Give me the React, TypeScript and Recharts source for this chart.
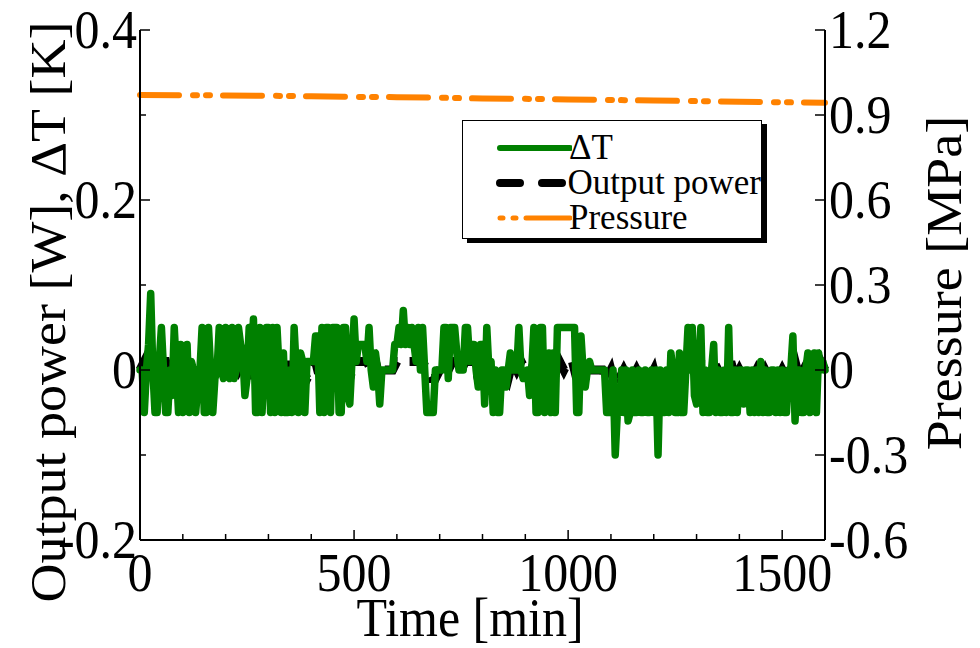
import { LineChart, Line, XAxis, YAxis, Legend } from "recharts";

const FONT = '"Liberation Serif", "Times New Roman", serif';
const STRETCH = 1.08;

// ΔT [K], one value every 5 min from 0 to 1600 min
const deltaT = [
  0, 0, -0.05, 0, 0.03, 0.09, 0, -0.05, -0.05, 0.01, 0.05, 0, -0.05, -0.05, 0, -0.03, 0.05, 0, -0.05, 0.03,
  -0.05, 0, 0.03, -0.05, 0.01, 0, -0.05, -0.02, 0, 0.05, -0.05, -0.05, 0.05, 0, -0.05, -0.01, 0, 0.05, 0, -0.01,
  0.05, 0, -0.01, 0.05, -0.01, 0, 0.05, 0.03, 0.02, -0.03, -0.01, 0.05, 0, 0.06, -0.05, -0.05, 0.05, -0.05, 0, 0.05,
  0.05, -0.05, 0.05, -0.05, 0.05, 0, -0.05, 0.02, -0.05, -0.05, 0, -0.05, 0.05, 0, -0.05, 0.02, 0.01, -0.05, 0.01, 0.01,
  0.01, 0.01, 0.04, 0.04, -0.05, 0.05, -0.05, 0.05, 0.05, -0.05, 0.05, 0.05, 0.05, -0.05, -0.05, 0.05, 0.05, -0.03, -0.04, 0.01,
  0.06, 0.01, 0.03, 0.03, 0.03, 0.03, 0.01, 0.05, 0, -0.02, 0.02, 0, -0.04, 0, 0, 0, 0, 0, 0, 0.03,
  0.03, 0.05, 0.03, 0.07, 0.03, 0.05, 0.03, 0.05, 0.03, 0.01, 0.05, 0, 0.05, 0, -0.05, -0.05, -0.05, -0.05, 0, 0,
  0, 0, 0.05, 0.05, -0.01, 0.05, 0.05, 0.05, 0.02, 0, 0, 0, 0.05, 0.05, 0.01, 0.03, 0.03, 0, -0.02, 0.03,
  0.03, -0.04, 0.05, 0, 0.01, -0.05, 0, -0.05, -0.05, 0, 0, -0.02, 0, 0.02, 0, 0, 0, 0.05, 0, -0.01,
  -0.01, 0, -0.03, 0, 0.05, -0.05, -0.05, 0.05, 0.05, -0.05, 0, 0.02, -0.05, 0.02, -0.05, 0.05, 0.05, 0.05, 0.05, 0.05,
  0.05, 0.05, 0.05, 0.05, -0.05, -0.05, 0.04, 0, -0.02, 0, 0.01, 0, 0, 0, 0, 0, 0, 0, -0.05, -0.05,
  -0.05, 0, -0.1, -0.05, -0.05, 0, -0.05, 0, -0.06, -0.05, 0, -0.05, -0.05, 0, -0.05, -0.05, 0, -0.05, -0.05, 0,
  -0.05, 0, -0.1, 0, -0.05, -0.05, 0, -0.05, 0.02, 0, -0.05, -0.05, 0.02, -0.05, -0.05, 0, 0.05, 0, 0.05, -0.03,
  -0.04, 0, 0.05, -0.05, 0, -0.05, -0.05, 0, 0.03, -0.05, 0, -0.05, -0.05, 0, -0.05, 0.05, -0.05, -0.05, 0, -0.05,
  0, 0, -0.04, 0, 0, -0.05, 0, -0.05, 0, -0.05, 0.01, -0.05, 0, -0.05, -0.05, 0, 0, -0.05, 0, -0.05,
  0, -0.05, -0.05, 0, 0, 0.04, -0.06, 0, 0, -0.05, -0.05, 0, 0.02, -0.05, 0, 0.02, -0.05, 0.02, 0, 0.01, 0,
];

// Output power [W], one value every 10 min
const outputPower = [
  0, 0.01, -0.01, 0.02, -0.01, 0.01, 0.01, -0.01, -0.01, 0.01,
  -0.01, 0.01, 0, -0.01, 0, 0.01, -0.01, 0.01, -0.01, 0,
  0.01, 0, 0.01, 0, 0.01, 0.01, -0.01, 0.01, 0.02, -0.01,
  0.01, -0.01, 0.01, -0.01, 0.01, -0.01, 0.01, -0.01, 0, -0.01,
  0, 0.01, -0.01, 0.01, -0.01, 0.01, 0.01, -0.01, 0.01, -0.01,
  0.01, 0.01, 0.01, 0.01, 0, 0.01, -0.01, 0, 0, 0,
  0.01, 0.01, 0.01, 0.01, 0.01, 0.01, 0.01, 0, -0.01, -0.01,
  0, 0.01, 0, 0.01, 0.01, 0, 0.01, 0.01, 0.01, -0.01,
  -0.01, 0.01, 0, -0.01, -0.01, 0, -0.01, 0.01, 0, 0.01,
  0, -0.01, 0.01, -0.01, 0.01, -0.01, 0.01, -0.01, 0.01, 0,
  0.01, 0.01, -0.01, 0.01, -0.01, 0, 0, 0, 0, -0.01,
  0, -0.02, -0.01, 0, -0.01, -0.01, 0, -0.01, 0, -0.01,
  0, -0.02, -0.01, 0, 0.01, -0.01, 0.01, -0.01, 0.01, 0.01,
  -0.01, 0.01, -0.01, -0.01, 0.01, 0, -0.01, -0.01, 0.01, -0.01,
  0, -0.01, 0, -0.01, 0, -0.01, 0, -0.01, 0, -0.01,
  0, -0.01, 0, 0.01, -0.01, 0, -0.01, 0.01, -0.01, 0.01, 0,
];

// Pressure [MPa], one value every 100 min
const pressure = [
  0.971, 0.97, 0.969, 0.968, 0.966, 0.964, 0.963, 0.961, 0.958,
  0.957, 0.955, 0.953, 0.951, 0.949, 0.947, 0.945, 0.943,
];

const xTicks = [0, 100, 200, 300, 400, 500, 600, 700, 800, 900, 1000, 1100, 1200, 1300, 1400, 1500, 1600];
const leftTicks = [-0.2, -0.1, 0, 0.1, 0.2, 0.3, 0.4];
const rightTicks = [-0.6, -0.3, 0, 0.3, 0.6, 0.9, 1.2];

const data = deltaT.map((v, i) => ({
  t: i * 5,
  dT: v,
  power: i % 2 === 0 ? outputPower[i / 2] : undefined,
  p: i % 20 === 0 ? pressure[i / 20] : undefined,
}));

const fmt = (v: number) => (Math.abs(v) < 1e-9 ? "0" : v.toFixed(1));

// text stretched vertically a little, like the reference
const Tall = ({ x, y, anchor, children }: any) => (
  <g transform={`translate(${x} ${y}) scale(1 ${STRETCH})`}>
    <text x={0} y={0} textAnchor={anchor} fontSize={50} fontFamily={FONT} fill="#000">
      {children}
    </text>
  </g>
);

const BottomTick = ({ x, y, payload }: any) => {
  const v = payload.value;
  const major = v % 500 === 0;
  return (
    <g>
      <line x1={x} x2={x} y1={y} y2={y - (major ? 10 : 6)} stroke="#000" strokeWidth={1.5} />
      {major && v < 1600 && (
        <Tall x={x} y={y + 51} anchor="middle">
          {v}
        </Tall>
      )}
    </g>
  );
};

const TopTick = ({ x, y, payload }: any) => {
  const major = payload.value % 500 === 0;
  return <line x1={x} x2={x} y1={y} y2={y + (major ? 10 : 6)} stroke="#000" strokeWidth={1.5} />;
};

const LeftTick = ({ x, y, payload }: any) => {
  const v = payload.value;
  const major = Math.round(v * 10) % 2 === 0;
  return (
    <g>
      <line x1={x} x2={x + (major ? 10 : 6)} y1={y} y2={y} stroke="#000" strokeWidth={1.5} />
      {major && (
        <Tall x={x - 3} y={y + 18} anchor="end">
          {fmt(v)}
        </Tall>
      )}
    </g>
  );
};

const RightTick = ({ x, y, payload }: any) => {
  const v = payload.value;
  return (
    <g>
      <line x1={x - 10} x2={x} y1={y} y2={y} stroke="#000" strokeWidth={1.5} />
      <Tall x={x + 4} y={y + 18} anchor="start">
        {fmt(v)}
      </Tall>
    </g>
  );
};

const VTitle = ({ x, y, children }: any) => (
  <g transform={`translate(${x} ${y}) rotate(-90) scale(${STRETCH} 1)`}>
    <text x={0} y={0} textAnchor="middle" dominantBaseline="central" fontSize={50} fontFamily={FONT} fill="#000">
      {children}
    </text>
  </g>
);

const LegendBox = () => {
  const row = (label: string, stroke: string, dash: string | undefined, w: number) => (
    <div style={{ display: "flex", alignItems: "center", height: 35 }}>
      <svg width={76} height={14} style={{ marginLeft: 33 }}>
        <line x1={4} x2={74} y1={7} y2={7} stroke={stroke} strokeWidth={w} strokeDasharray={dash} strokeLinecap="round" />
      </svg>
      <span style={{ fontSize: 35, lineHeight: "35px", whiteSpace: "nowrap", marginLeft: -3 }}>{label}</span>
    </div>
  );
  return (
    <div
      style={{
        width: 300,
        height: 119,
        border: "1.5px solid #000",
        boxShadow: "5px 4px 0 #000",
        background: "#fff",
        fontFamily: FONT,
        color: "#000",
        boxSizing: "border-box",
        paddingTop: 9,
      }}
    >
      {row("ΔT", "#008000", undefined, 6)}
      {row("Output power", "#000", "20 22", 8)}
      {row("Pressure", "#ff8200", "3 10 3 10 44 0", 5)}
    </div>
  );
};

export default function App() {
  return (
    <div style={{ position: "absolute", left: 0, top: 0, background: "#fff" }}>
      <LineChart width={980} height={648} data={data} margin={{ top: 30, right: 0, bottom: 0, left: 0 }}>
        <XAxis
          xAxisId="b"
          dataKey="t"
          type="number"
          domain={[0, 1600]}
          ticks={xTicks}
          height={108}
          tickSize={0}
          tickMargin={0}
          tickLine={false}
          axisLine={{ stroke: "#000", strokeWidth: 2 }}
          tick={BottomTick}
          interval={0}
          label={() => (
            <Tall x={470} y={636} anchor="middle">
              Time [min]
            </Tall>
          )}
        />
        <XAxis
          xAxisId="top"
          orientation="top"
          dataKey="t"
          type="number"
          domain={[0, 1600]}
          ticks={xTicks}
          height={0}
          tickSize={0}
          tickMargin={0}
          tickLine={false}
          axisLine={{ stroke: "#000", strokeWidth: 2 }}
          tick={TopTick}
          interval={0}
        />
        <YAxis
          yAxisId="l"
          domain={[-0.2, 0.4]}
          ticks={leftTicks}
          width={140}
          tickSize={0}
          tickMargin={0}
          tickLine={false}
          axisLine={{ stroke: "#000", strokeWidth: 2 }}
          tick={LeftTick}
          interval={0}
          label={() => <VTitle x={48} y={312}>Output power [W], ΔT [K]</VTitle>}
        />
        <YAxis
          yAxisId="r"
          orientation="right"
          domain={[-0.6, 1.2]}
          ticks={rightTicks}
          width={155}
          tickSize={0}
          tickMargin={0}
          tickLine={false}
          axisLine={{ stroke: "#000", strokeWidth: 2 }}
          tick={RightTick}
          interval={0}
          label={() => <VTitle x={944} y={283}>Pressure [MPa]</VTitle>}
        />
        <Legend
          layout="vertical"
          align="center"
          verticalAlign="middle"
          content={LegendBox}
          wrapperStyle={{ position: "absolute", left: 462, top: 120, width: 305, height: 124 }}
        />
        <Line
          xAxisId="b"
          yAxisId="r"
          dataKey="p"
          name="Pressure"
          stroke="#ff8200"
          strokeWidth={6}
          strokeLinecap="round"
          strokeDasharray="39 14 4 9 4 13"
          dot={false}
          connectNulls
          isAnimationActive={false}
        />
        <Line
          xAxisId="b"
          yAxisId="l"
          dataKey="power"
          name="Output power"
          stroke="#000"
          strokeWidth={9}
          strokeDasharray="18 12"
          dot={false}
          connectNulls
          isAnimationActive={false}
        />
        <Line
          xAxisId="b"
          yAxisId="l"
          dataKey="dT"
          name="ΔT"
          stroke="#008000"
          strokeWidth={7.5}
          strokeLinejoin="round"
          strokeLinecap="round"
          dot={false}
          isAnimationActive={false}
        />
      </LineChart>
    </div>
  );
}
